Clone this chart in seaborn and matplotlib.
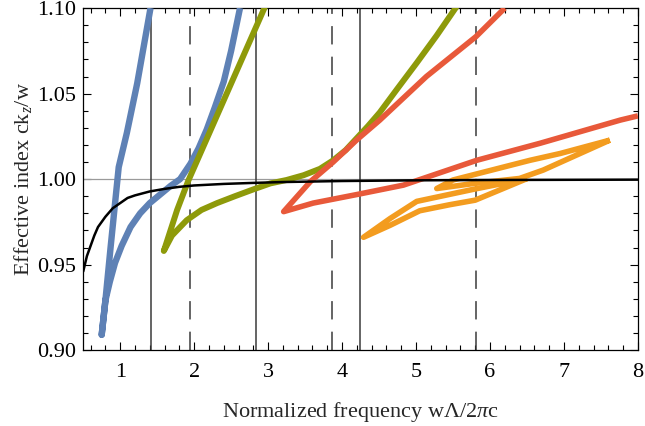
import numpy as np
import pandas as pd
import matplotlib
matplotlib.use('Agg')
import matplotlib.pyplot as plt
from matplotlib.ticker import MultipleLocator
import seaborn as sns

# light line (black) approaching n = 1
light_x = [0.5, 0.55, 0.6, 0.65, 0.7, 0.8, 0.9, 1.0, 1.1, 1.2, 1.4, 1.6, 1.8, 2.0, 2.4, 2.8, 3.2, 4.0, 5.0, 6.0, 7.0, 8.0]
light_y = [0.946, 0.955, 0.961, 0.967, 0.972, 0.978, 0.983, 0.986, 0.989, 0.9905, 0.9928, 0.9943, 0.9955, 0.9963,
           0.9972, 0.9978, 0.9983, 0.9989, 0.9993, 0.9995, 0.9996, 0.9997]

# mode 1 (blue)
blue_x = [1.41, 1.23, 1.09, 0.98, 0.87, 0.80, 0.75, 0.80, 0.86, 0.93, 1.02, 1.14, 1.27, 1.40, 1.54, 1.68,
          1.81, 1.95, 2.06, 2.17, 2.28, 2.40, 2.50, 2.62]
blue_y = [1.100, 1.056, 1.027, 1.007, 0.960, 0.929, 0.909, 0.929, 0.940, 0.951, 0.961, 0.972, 0.980, 0.986,
          0.991, 0.996, 1.000, 1.009, 1.018, 1.029, 1.042, 1.057, 1.075, 1.100]

# mode 2 (olive)
olive_x = [2.96, 2.44, 1.92, 1.77, 1.59, 1.70, 1.90, 2.10, 2.31, 2.55, 2.80, 3.03, 3.25, 3.48, 3.70, 3.88,
           4.05, 4.20, 4.35, 4.51, 4.75, 5.01, 5.28, 5.55]
olive_y = [1.101, 1.050, 0.999, 0.982, 0.958, 0.967, 0.976, 0.982, 0.986, 0.990, 0.994, 0.9975, 0.9995,
           1.0023, 1.006, 1.011, 1.017, 1.024, 1.031, 1.039, 1.053, 1.068, 1.084, 1.101]

# mode 3 (red)
red_x = [6.20, 5.81, 5.14, 4.51, 4.20, 3.88, 3.57, 3.21, 3.61, 4.20, 4.83, 5.82, 6.68, 7.76, 8.0]
red_y = [1.100, 1.0833, 1.060, 1.0345, 1.023, 1.010, 0.9985, 0.981, 0.986, 0.991, 0.9965, 1.011, 1.021,
         1.0345, 1.037]

# mode 4 (orange), two loops
orange1_x = [6.50, 5.77, 5.01, 4.65, 4.29, 4.65, 5.05, 5.45, 5.80, 6.15, 6.50]
orange1_y = [1.0003, 0.994, 0.987, 0.977, 0.966, 0.973, 0.9815, 0.985, 0.9877, 0.994, 1.0003]
orange2_x = [7.62, 6.95, 6.54, 5.50, 5.28, 5.77, 6.40, 6.72, 7.62]
orange2_y = [1.0228, 1.015, 1.011, 0.9995, 0.9945, 0.9974, 1.0004, 1.0053, 1.0228]

solid_lines = [1.414, 2.83, 4.24]
dashed_lines = [1.94, 3.87, 5.81]

sns.set_theme(style='ticks')
plt.rcParams['font.family'] = ['Liberation Serif', 'DejaVu Serif']
plt.rcParams['mathtext.fontset'] = 'custom'
plt.rcParams['mathtext.rm'] = 'Liberation Serif'
plt.rcParams['mathtext.it'] = 'Liberation Serif:italic'

fig = plt.figure(figsize=(6.45, 4.26), dpi=100)
ax = fig.add_axes([0.129, 0.178, 0.860, 0.803])

ax.axhline(1.0, color='#9a9a9a', lw=0.9, zorder=1)
for xv in solid_lines:
    ax.axvline(xv, color='#3a3a3a', lw=1.1, zorder=1)
for xv in dashed_lines:
    ax.axvline(xv, color='#3a3a3a', lw=1.1, ls=(0, (12, 8)), zorder=1)

curves = [
    (blue_x, blue_y, '#5E81B5', 4.6),
    (olive_x, olive_y, '#8E9A0A', 4.3),
    (red_x, red_y, '#E8593A', 4.0),
    (orange1_x, orange1_y, '#F39C1F', 4.0),
    (orange2_x, orange2_y, '#F39C1F', 4.0),
]
for cx, cy, col, lw in curves:
    df = pd.DataFrame({'x': cx, 'y': cy})
    sns.lineplot(data=df, x='x', y='y', sort=False, estimator=None, color=col, lw=lw,
                 ax=ax, zorder=3)
    ax.lines[-1].set_solid_joinstyle('round')
    ax.lines[-1].set_solid_capstyle('butt')

sns.lineplot(x=light_x, y=light_y, sort=False, estimator=None, color='black', lw=1.8, ax=ax, zorder=4)

ax.set_xlim(0.5, 8)
ax.set_ylim(0.90, 1.10)
ax.xaxis.set_major_locator(MultipleLocator(1))
ax.xaxis.set_minor_locator(MultipleLocator(0.2))
ax.yaxis.set_major_locator(MultipleLocator(0.05))
ax.yaxis.set_minor_locator(MultipleLocator(0.01))
ax.yaxis.set_major_formatter(matplotlib.ticker.FormatStrFormatter('%.2f'))
ax.tick_params(which='both', direction='in', top=True, right=True, colors='black', labelsize=16)
ax.tick_params(which='major', length=6, width=0.8)
ax.tick_params(which='minor', length=3.5, width=0.8)
ax.tick_params(axis='x', which='major', pad=9)
ax.tick_params(axis='y', which='major', pad=5)
for s in ax.spines.values():
    s.set_color('black')
    s.set_linewidth(0.9)

ax.set_xlabel(r'Normalized frequency w$\Lambda$/2$\pi$c', fontsize=16, labelpad=13)
ax.set_ylabel(r'Effective index ck$_z$/w', fontsize=16, labelpad=2)

fig.savefig('out.png', dpi=100)
